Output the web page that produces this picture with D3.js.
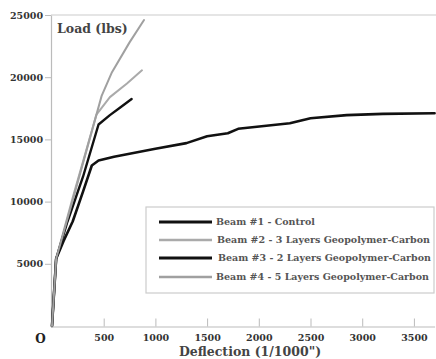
<!DOCTYPE html>
<html>
<head>
<meta charset="utf-8">
<script src="https://cdn.jsdelivr.net/npm/d3@7"></script>
<style>
  html, body { margin: 0; padding: 0; background: #fff; }
  svg { display: block; }
</style>
</head>
<body>
<svg id="chart" width="436" height="359"></svg>
<script>
// data: [deflection (1/1000"), load (lbs)]
const beam1 = [[0,0],[40,5400],[110,6800],[200,8400],[300,10800],[385,12900],[450,13300],[600,13600],
  [850,14000],[1000,14250],[1300,14700],[1500,15250],[1700,15500],[1800,15850],[2300,16300],
  [2500,16700],[2850,16950],[3200,17050],[3700,17100]];
const beam2 = [[0,0],[40,5400],[200,10300],[430,17000],[560,18400],[725,19500],[870,20550]];
const beam3 = [[0,0],[40,5400],[150,8400],[300,12000],[450,16200],[560,16950],[650,17500],[770,18250]];
const beam4 = [[0,0],[40,5400],[200,10100],[480,18500],[580,20400],[750,22800],[890,24600]];

const seriesNames = ["Beam #1 - Control", "Beam #2 - 3 Layers Geopolymer-Carbon",
  "Beam #3 - 2 Layers Geopolymer-Carbon", "Beam #4 - 5 Layers Geopolymer-Carbon"];
const seriesData = [beam1, beam2, beam3, beam4];
const seriesColor = ["#111", "#aaa", "#111", "#a0a0a0"];
const seriesWidth = [2.6, 2, 2.4, 2];

const xTicks = [500, 1000, 1500, 2000, 2500, 3000, 3500];
const yTicks = [5000, 10000, 15000, 20000, 25000];

const font = "'DejaVu Serif', serif";
const svg = d3.select("#chart");

const x = d3.scaleLinear().domain([0, 3700]).range([52, 434.6]);
const y = d3.scaleLinear().domain([0, 25000]).range([326, 15]);

// frame
svg.append("line").attr("x1", 51).attr("x2", 436).attr("y1", 15).attr("y2", 15)
  .attr("stroke", "#ccc").attr("stroke-width", 1.2);

// y axis
const yAxis = svg.append("g").attr("transform", "translate(51,0)")
  .call(d3.axisLeft(y).tickValues(yTicks).tickFormat(d3.format("d"))
    .tickSize(6).tickSizeOuter(0).tickPadding(2));
yAxis.select(".domain").attr("stroke", "#bbb").attr("stroke-width", 1.2);
yAxis.selectAll(".tick line").attr("stroke", "#bbb");
yAxis.selectAll(".tick text").attr("font-family", font).attr("font-weight", "bold")
  .attr("font-size", 9.5).attr("fill", "#333");

// x axis, ticks pointing inward
const xAxis = svg.append("g").attr("transform", "translate(0,326.5)")
  .call(d3.axisBottom(x).tickValues(xTicks).tickFormat(d3.format("d"))
    .tickSize(-8).tickSizeOuter(0).tickPadding(6));
xAxis.select(".domain").attr("stroke", "#bbb").attr("stroke-width", 1.2);
xAxis.selectAll(".tick line").attr("stroke", "#bbb");
xAxis.selectAll(".tick text").attr("font-family", font).attr("font-weight", "bold")
  .attr("font-size", 9.5).attr("fill", "#333").attr("dy", "0.9em");

svg.append("text").attr("x", 40.5).attr("y", 343).attr("text-anchor", "middle")
  .attr("font-family", font).attr("font-weight", "bold").attr("font-size", 12)
  .attr("fill", "#222").text("O");

// axis titles
svg.append("text").attr("x", 57).attr("y", 33)
  .attr("font-family", font).attr("font-weight", "bold").attr("font-size", 12.5)
  .attr("fill", "#444").text("Load (lbs)");
svg.append("text").attr("x", 250).attr("y", 356).attr("text-anchor", "middle")
  .attr("font-family", font).attr("font-weight", "bold").attr("font-size", 12.5)
  .attr("fill", "#444").text("Deflection (1/1000\")");

// lines
const line = d3.line().x(d => x(d[0])).y(d => y(d[1]));
seriesData.forEach((s, i) => {
  svg.append("path").datum(s).attr("d", line)
    .attr("fill", "none").attr("stroke", seriesColor[i]).attr("stroke-width", seriesWidth[i])
    .attr("stroke-linejoin", "round").attr("stroke-linecap", "round");
});

// legend
const lg = svg.append("g");
lg.append("rect").attr("x", 146).attr("y", 207).attr("width", 288).attr("height", 86)
  .attr("fill", "#fff").attr("stroke", "#ccc").attr("stroke-width", 1.2);
const rowY = [222, 240, 258, 277];
seriesNames.forEach((name, i) => {
  lg.append("line").attr("x1", 159).attr("x2", 212).attr("y1", rowY[i]).attr("y2", rowY[i])
    .attr("stroke", seriesColor[i]).attr("stroke-width", seriesWidth[i] + 0.4);
  lg.append("text").attr("x", 216 + (i === 1 ? 1 : i === 2 ? 2 : 0)).attr("y", rowY[i]).attr("dy", "0.35em")
    .attr("font-family", font).attr("font-weight", "bold").attr("font-size", 9.5)
    .attr("fill", "#555").text(name);
});
</script>
</body>
</html>
